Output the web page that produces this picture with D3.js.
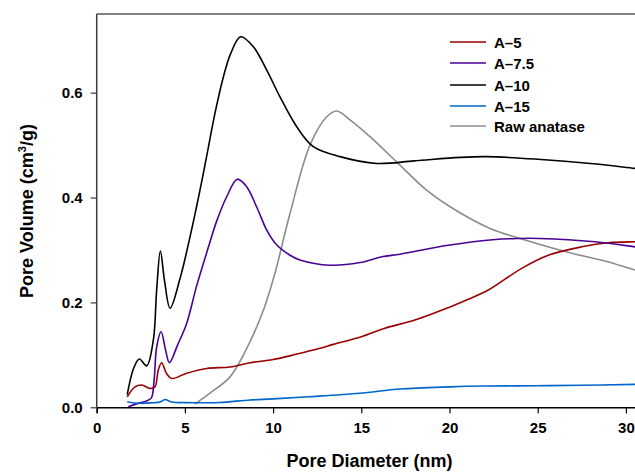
<!DOCTYPE html>
<html>
<head>
<meta charset="utf-8">
<script src="https://cdn.jsdelivr.net/npm/d3@7"></script>
<style>
body { margin: 0; background: #fff; }
svg { display: block; }
text { font-family: Arial, "Liberation Sans", sans-serif; font-weight: bold; fill: #000; }
</style>
</head>
<body>
<div id="chart"></div>
<script>
// series (pore diameter nm, pore volume cm3/g)
var a5X = [1.73, 2.17, 2.55, 3.02, 3.3, 3.49, 3.68, 3.95, 4.25, 5.1, 6.24, 7.56, 8.7, 10, 11.3, 12.66, 13.41, 15, 16.25, 18.04, 20, 21, 22.2, 24.09, 25.6, 27.5, 29, 30.5, 31.5];
var a5Y = [0.02, 0.039, 0.0425, 0.036, 0.039, 0.071, 0.085, 0.065, 0.055, 0.065, 0.074, 0.077, 0.085, 0.091, 0.101, 0.1125, 0.12, 0.1346, 0.15, 0.1665, 0.191, 0.205, 0.2236, 0.265, 0.29, 0.306, 0.3138, 0.3157, 0.316];

var a75X = [1.79, 2.3, 2.83, 3.1, 3.25, 3.4, 3.65, 3.9, 4.12, 4.6, 5.1, 5.67, 6.33, 6.8, 7.37, 7.97, 8.5, 9.07, 9.64, 10.2, 10.96, 11.52, 13.23, 14.93, 16.16, 17.2, 19.93, 22.6, 23.9, 25.1, 28.25, 30.5, 31.5];
var a75Y = [0.001, 0.007, 0.012, 0.018, 0.05, 0.115, 0.144, 0.11, 0.085, 0.12, 0.16, 0.232, 0.305, 0.355, 0.4015, 0.435, 0.4206, 0.382, 0.338, 0.31, 0.29, 0.281, 0.271, 0.276, 0.287, 0.292, 0.309, 0.32, 0.322, 0.322, 0.3157, 0.306, 0.301];

var a10X = [1.73, 2.1, 2.42, 2.83, 3.21, 3.4, 3.61, 3.85, 4.16, 4.72, 5.29, 5.8, 6.24, 6.7, 7.18, 7.6, 8.16, 8.88, 9.64, 10.39, 11.34, 12.28, 13.79, 15.87, 18, 20.6, 22.1, 25, 28, 30.5, 31.5];
var a10Y = [0.024, 0.075, 0.092, 0.079, 0.128, 0.224, 0.298, 0.24, 0.189, 0.245, 0.325, 0.405, 0.48, 0.56, 0.63, 0.675, 0.7066, 0.6875, 0.643, 0.592, 0.535, 0.497, 0.478, 0.465, 0.47, 0.4766, 0.478, 0.473, 0.465, 0.4557, 0.452];

var a15X = [1.73, 2.45, 3.2, 3.6, 3.87, 4.1, 4.34, 5, 6, 7, 8.7, 10, 12, 14.9, 17.2, 20, 22, 24.75, 27.5, 30.5, 31.5];
var a15Y = [0.0107, 0.0076, 0.0088, 0.01, 0.015, 0.012, 0.0095, 0.009, 0.0088, 0.0092, 0.014, 0.016, 0.02, 0.0267, 0.035, 0.039, 0.0405, 0.041, 0.042, 0.0438, 0.044];

var rawX = [5.57, 6.42, 7.56, 8.69, 9.5, 10.1, 10.96, 12.09, 13.04, 13.6, 14.36, 15.49, 17.0, 18.7, 20.03, 22.3, 24.0, 26.6, 28.9, 30.5, 31.5];
var rawY = [0.0063, 0.027, 0.058, 0.125, 0.19, 0.255, 0.37, 0.5, 0.554, 0.565, 0.548, 0.516, 0.468, 0.414, 0.3825, 0.341, 0.322, 0.2967, 0.278, 0.262, 0.254];

var seriesNames = ["A\u20135", "A\u20137.5", "A\u201310", "A\u201315", "Raw anatase"];
var seriesColors = ["#990000", "#4b0096", "#000000", "#0066cc", "#8c8c8c"];
var xTicks = [0, 5, 10, 15, 20, 25, 30];
var yTicks = [0.0, 0.2, 0.4, 0.6];

var width = 635;
var height = 472;

var x0 = 96.7;   // left axis position
var yBottom = 407.3;
var yTop = 14;

var x = d3.scaleLinear().domain([0, 35]).range([x0, x0 + 35 * 17.64]);
var y = d3.scaleLinear().domain([0, 0.75]).range([yBottom, yTop]);

var svg = d3.select("#chart").append("svg")
	.attr("width", width)
	.attr("height", height);

svg.append("rect").attr("width", width).attr("height", height).attr("fill", "#fff");

function zip(xs, ys){
	return xs.map(function(v, i){ return {x: v, y: ys[i]}; });
}

var allSeries = [zip(a5X, a5Y), zip(a75X, a75Y), zip(a10X, a10Y), zip(a15X, a15Y), zip(rawX, rawY)];

// frame: top border
svg.append("line")
	.attr("x1", x0).attr("x2", width)
	.attr("y1", yTop).attr("y2", yTop)
	.attr("stroke", "#5a5a5a").attr("stroke-width", 1.5);

var line = d3.line()
	.x(function(d){ return x(d.x); })
	.y(function(d){ return y(d.y); })
	.curve(d3.curveCatmullRom.alpha(0.5));

// draw raw anatase first so the others sit on top
var order = [4, 0, 1, 3, 2];
order.forEach(function(i){
	svg.append("path")
		.attr("d", line(allSeries[i]))
		.attr("fill", "none")
		.attr("stroke", seriesColors[i])
		.attr("stroke-width", 1.6);
});

var xAxis = d3.axisBottom(x).tickValues(xTicks).tickFormat(d3.format("d")).tickSizeOuter(0).tickSize(6).tickPadding(9);
var yAxis = d3.axisLeft(y).tickValues(yTicks).tickFormat(d3.format(".1f")).tickSizeOuter(0).tickSize(6).tickPadding(8);

var gx = svg.append("g")
	.attr("transform", "translate(0," + yBottom + ")")
	.call(xAxis);
gx.select(".domain").attr("stroke", "#000").attr("stroke-width", 1.5);
gx.selectAll(".tick line").attr("stroke", "#000").attr("stroke-width", 1.2);
gx.selectAll("text").style("font-size", "15px").style("font-family", "Arial, 'Liberation Sans', sans-serif").style("font-weight", "bold");

var gy = svg.append("g")
	.attr("transform", "translate(" + x0 + ",0)")
	.call(yAxis);
gy.select(".domain").attr("d", "M0," + yBottom + "V" + yTop).attr("stroke", "#3a3a3a").attr("stroke-width", 1.5);
gy.selectAll(".tick line").attr("stroke", "#3a3a3a").attr("stroke-width", 1.2);
gy.selectAll("text").style("font-size", "15px").style("font-family", "Arial, 'Liberation Sans', sans-serif").style("font-weight", "bold");

// axis titles
svg.append("text")
	.attr("x", 369.5)
	.attr("y", 467)
	.style("text-anchor", "middle")
	.style("font-size", "18px")
	.text("Pore Diameter (nm)");

var yTitle = svg.append("text")
	.attr("transform", "translate(33,211) rotate(-90)")
	.style("text-anchor", "middle")
	.style("font-size", "18px");
yTitle.append("tspan").text("Pore Volume (cm");
yTitle.append("tspan").attr("dy", -7).style("font-size", "11px").text("3");
yTitle.append("tspan").attr("dy", 7).text("/g)");

// legend
var legendY = [42, 63, 85, 106, 126];
var legend = svg.append("g");
seriesNames.forEach(function(name, i){
	legend.append("line")
		.attr("x1", 450).attr("x2", 486)
		.attr("y1", legendY[i]).attr("y2", legendY[i])
		.attr("stroke", seriesColors[i])
		.attr("stroke-width", 1.6);
	legend.append("text")
		.attr("x", 494)
		.attr("y", legendY[i] + 5.5)
		.style("font-size", "15px")
		.text(name);
});
</script>
</body>
</html>
